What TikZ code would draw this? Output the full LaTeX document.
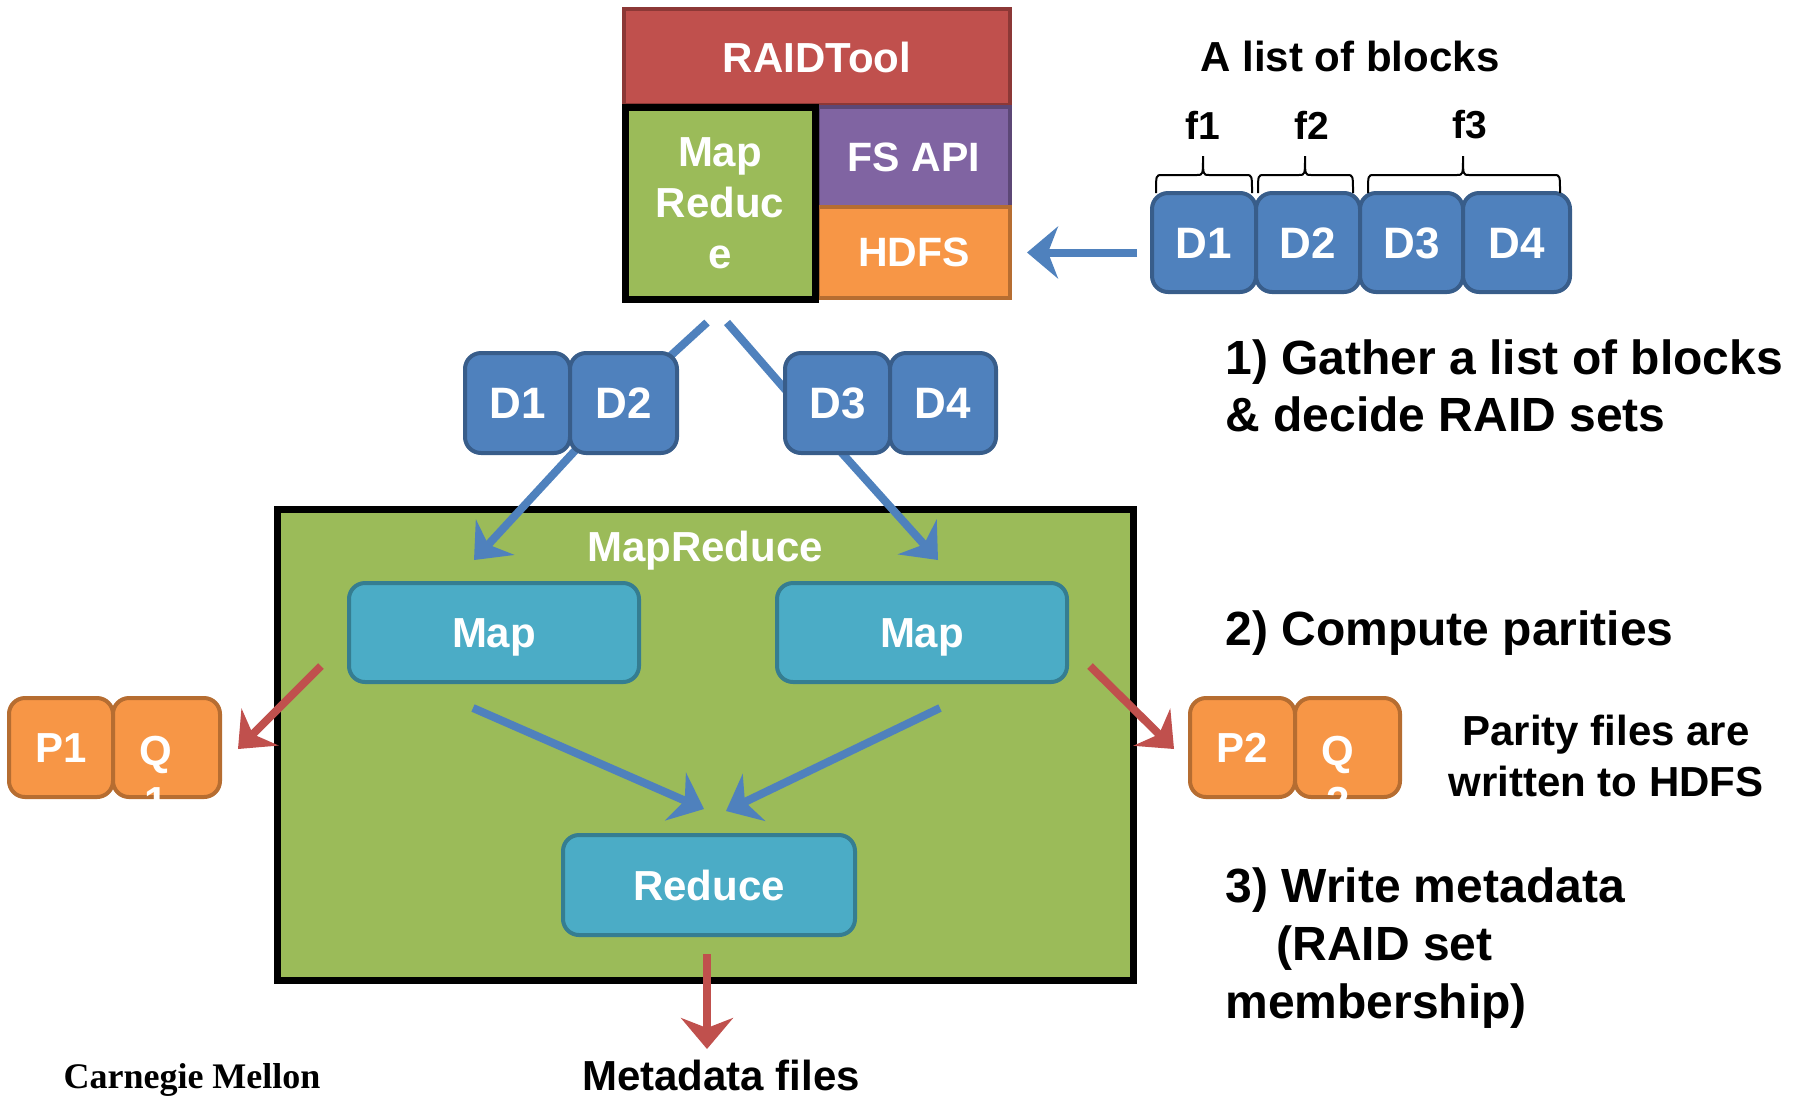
\documentclass[tikz,border=0pt]{standalone}
\usepackage{fontspec}
\setmainfont{Liberation Sans}
\newfontfamily\cmufont{Liberation Serif}
\usetikzlibrary{arrows.meta,calc}
\definecolor{raidred}{HTML}{C0504D}
\definecolor{raidredb}{HTML}{8C3836}
\definecolor{fspurple}{HTML}{8064A2}
\definecolor{fspurpleb}{HTML}{5C4776}
\definecolor{hdfsor}{HTML}{F79646}
\definecolor{hdfsorb}{HTML}{B66D31}
\definecolor{mrgreen}{HTML}{9BBB59}
\definecolor{dblue}{HTML}{4F81BD}
\definecolor{dblueb}{HTML}{385D8A}
\definecolor{mapteal}{HTML}{4BACC6}
\definecolor{maptealb}{HTML}{357D91}
\begin{document}
\begin{tikzpicture}[x=1pt,y=-1pt,
 wt/.style={text=white, font=\bfseries\fontsize{42}{51}\selectfont},
 capc/.style={text height=30pt, text depth=0pt},
 flat/.style={rectangle, line width=4pt, inner sep=0pt, wt},
 rbox/.style={rectangle, rounded corners=16pt, line width=4pt, inner sep=0pt, minimum height=96pt, wt},
 dbox/.style={rbox, fill=dblue, draw=dblueb, font=\bfseries\fontsize{44}{52}\selectfont, text height=31.5pt, text depth=0pt},
 obox/.style={rbox, fill=hdfsor, draw=hdfsorb, minimum width=106pt, minimum height=99pt},
 tbox/.style={rbox, fill=mapteal, draw=maptealb, minimum width=290pt, minimum height=99pt, capc},
 bline/.style={draw=dblue, line width=8pt},
 barrow/.style={bline, -{Stealth[length=31pt,width=52pt,inset=10pt]}},
 rarrow/.style={draw=raidred, line width=8pt, -{Stealth[length=31pt,width=52pt,inset=10pt]}},
 blk/.style={text=black, font=\bfseries\fontsize{48}{57}\selectfont},
 blks/.style={text=black, font=\bfseries\fontsize{42}{51}\selectfont},
 bracepath/.style={draw=black, line width=2pt},
]
\useasboundingbox (0,0) rectangle (1795,1096);

% top stack
\node[flat, fill=raidred, draw=raidredb, minimum width=386pt, minimum height=96pt, font=\bfseries\fontsize{42}{50}\selectfont] (RT) at (817,57) {RAIDTool};
\node[flat, fill=fspurple, draw=fspurpleb, minimum width=192pt, minimum height=100pt, font=\bfseries\fontsize{41}{48}\selectfont] (FS) at (914,157) {FS API};
\node[flat, fill=hdfsor, draw=hdfsorb, minimum width=192pt, minimum height=91pt, font=\bfseries\fontsize{41}{48}\selectfont] (HDFS) at (914,252.5) {HDFS};
\node[flat, fill=mrgreen, draw=black, line width=7pt, minimum width=190pt, minimum height=192pt, align=center] (MRs) at (720,203) {Map\\Reduc\\e};

% list of blocks
\node[blks] (title) at (1350,56) {A list of blocks};
\node[dbox, minimum width=104pt, minimum height=99pt] (tD1) at (1204,242.5) {D1};
\node[dbox, minimum width=104pt, minimum height=99pt] (tD2) at (1308,242.5) {D2};
\node[dbox, minimum width=103pt, minimum height=99pt] (tD3) at (1411.5,242.5) {D3};
\node[dbox, minimum width=107pt, minimum height=99pt] (tD4) at (1516.5,242.5) {D4};
\node[blks, font=\bfseries\fontsize{39}{46}\selectfont] (f1) at (1203,125) {f1};
\node[blks, font=\bfseries\fontsize{39}{46}\selectfont] (f2) at (1312,125) {f2};
\node[blks, font=\bfseries\fontsize{39}{46}\selectfont] (f3) at (1470,125) {f3};
\draw[bracepath] (1156,193) .. controls (1156,175) .. (1162,175) -- (1197,175) .. controls (1203,175) .. (1203,156) .. controls (1203,175) .. (1209,175) -- (1246,175) .. controls (1252,175) .. (1252,193);
\draw[bracepath] (1258,193) .. controls (1258,175) .. (1264,175) -- (1299,175) .. controls (1305,175) .. (1305,156) .. controls (1305,175) .. (1311,175) -- (1347,175) .. controls (1353,175) .. (1353,193);
\draw[bracepath] (1368,193) .. controls (1368,175) .. (1374,175) -- (1457,175) .. controls (1463,175) .. (1463,156) .. controls (1463,175) .. (1469,175) -- (1554,175) .. controls (1560,175) .. (1560,193);
\draw[barrow, shorten <=13pt, shorten >=15pt] (tD1.west |- HDFS.east) -- (HDFS.east);

% big MapReduce box
\node[rectangle, fill=mrgreen, draw=black, line width=7pt, minimum width=856pt, minimum height=471pt] (MRb) at (705,745) {};
\node[wt] (MRlabel) at (705,551) {MapReduce};
\node[tbox] (Map1) at (494,632.5) {Map};
\node[tbox] (Map2) at (922,632.5) {Map};
\node[tbox, minimum width=292pt, minimum height=100pt] (Reduce) at (709,885) {Reduce};

% blue connectors
\draw[bline] ($(MRs.south)+(-13,20)$) -- (619,403) coordinate (kl);
\draw[bline] ($(MRs.south)+(7,20)$) -- (797,403) coordinate (kr);
\draw[barrow] (kl) -- ($(Map1.north)+(-20,-21)$);
\draw[barrow] (kr) -- ($(Map2.north)+(16,-21)$);
\draw[barrow] ($(Map1.south)+(-21,24)$) -- ($(Reduce.north)+(-5,-24)$);
\draw[barrow] ($(Map2.south)+(18,24)$) -- ($(Reduce.north)+(17,-22)$);

% middle D blocks
\node[dbox, minimum width=105pt, minimum height=100pt] (mD1) at (517.5,403) {D1};
\node[dbox, minimum width=107pt, minimum height=100pt] (mD2) at (623.5,403) {D2};
\node[dbox, minimum width=105pt, minimum height=100pt] (mD3) at (837.5,403) {D3};
\node[dbox, minimum width=106pt, minimum height=100pt] (mD4) at (943,403) {D4};

% parity blocks
\node[obox, minimum width=104pt, capc] (P1) at (61,747.5) {P1};
\node[obox, minimum width=107pt] (Q1) at (166.5,747.5) {};
\node[wt, align=center] (Q1t) at (156,776) {Q\\1};
\node[obox, minimum width=105pt, capc] (P2) at (1242.5,747.5) {P2};
\node[obox, minimum width=105pt] (Q2) at (1347.5,747.5) {};
\node[wt, align=center] (Q2t) at (1338,776) {Q\\2};

% red arrows
\draw[rarrow] ($(Map1.south west)+(-26,-18)$) -- ($(Q1.east)+(16,1.5)$);
\draw[rarrow] ($(Map2.south east)+(21,-18)$) -- ($(P2.west)+(-14,1.5)$);
\node[blks, anchor=base] (meta) at (721,1090) {Metadata files};
\draw[rarrow] ($(Reduce.south)+(-2,17)$) -- ($(Reduce.south)+(-2,112)$);

% right-side texts
\node[blk, anchor=west, align=left] (s1) at (1222,386) {1) Gather a list of blocks\\\& decide RAID sets};
\node[blk, anchor=west] (s2) at (1222,633) {2) Compute parities};
\node[blks, align=center] (s2b) at (1606,756) {Parity files are\\written to HDFS};
\node[blk, anchor=west, align=left, font=\bfseries\fontsize{48}{58}\selectfont] (s3) at (1222,948) {3) Write metadata\\\hspace*{51pt}(RAID set\\membership)};

\node[text=black, anchor=base, font=\cmufont\bfseries\fontsize{36}{42}\selectfont] (cmu) at (192,1088) {Carnegie Mellon};
\end{tikzpicture}
\end{document}
